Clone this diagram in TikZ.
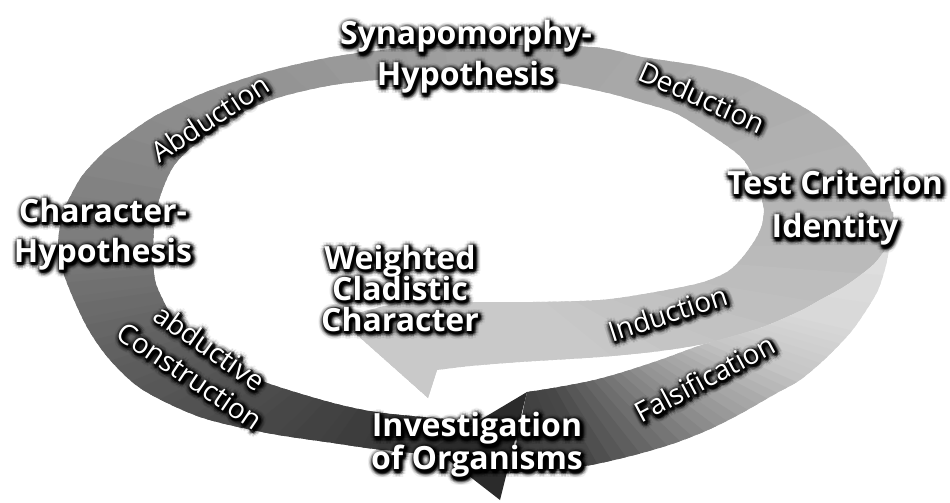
\documentclass[tikz,border=0pt]{standalone}
\usepackage{fontspec}
\newfontfamily\headfont{Open Sans}
\newfontfamily\labfont{Open Sans}
\AtBeginDocument{\lineskiplimit=-60pt\relax}
\begin{document}
\begin{tikzpicture}[x=1pt,y=-1pt,
  headline/.style={font=\headfont\bfseries\fontsize{32}{#1}\selectfont,
    align=center, inner sep=0pt},
  headline/.default=40,
  steplabel/.style={font=\labfont\fontsize{28}{30}\selectfont, inner sep=0pt},
]
% white text over a soft dark drop shadow
\newcommand\glowtext[4]{%
  \foreach \gr/\go in {6/0.06,4.5/0.11,3/0.22,1.5/0.38}{%
    \foreach \ga in {0,30,...,330}{%
      \node[shift={(\ga:\gr pt)},shift={(1.5pt,-2pt)},text=black,text opacity=\go,#1] at #3 {#4};
    }%
  }%
  \node[text=white,#1] (#2) at #3 {#4};
}
% one coloured sector of the shading, seen from the centre of the loop
\newcommand\wedgefill[2]{%
  \fill[black!#2] (475,245) -- ({475+800*cos(#1-1.6)},{245-400*sin(#1-1.6)})
    -- ({475+800*cos(#1+1.6)},{245-400*sin(#1+1.6)}) -- cycle;}

\useasboundingbox (0,0) rectangle (950,503);
\fill[white] (0,0) rectangle (950,503);

% main ribbon: from the bottom round the left, over the top, down the right
\begin{scope}
  \clip plot[smooth] coordinates {(470,458) (383,450) (333,443) (267,433) (200,417) (143,390)
      (110,360) (87,327) (67,283) (58,250) (62,215) (70,197) (82,176) (100,156) (113,145)
      (155,116) (206,92) (266,72) (332,57) (402,48) (475,45) (592,47) (642,57) (700,66)
      (742,77) (775,92) (808,110) (835,130) (858,153) (876,177) (888,200) (893,220) (894,238)}
    -- plot[smooth] coordinates {(763,230) (764,210) (757,185) (742,158) (708,133) (675,113)
      (640,102) (608,93) (558,83) (500,79) (440,78) (400,78) (333,85) (277,98) (233,117)
      (200,140) (173,167) (157,207) (153,250) (155,280) (163,300) (173,317) (200,347)
      (233,367) (267,383) (333,403) (383,413) (470,421)} -- cycle;
  \foreach \p in {-10,-8,...,284}{%
    \pgfmathtruncatemacro\dk{28+0.1*\p+0.0667*max(0,\p-90)+0.1667*max(0,\p-180)}%
    \wedgefill{\p}{\dk}%
  }
\end{scope}

% inner branch: Induction, ending in the pale arrowhead
\begin{scope}
  \clip plot[smooth] coordinates {(893,212) (894,230) (890,243) (875,263) (858,277) (842,288)
      (820,300) (800,311) (760,328) (708,343) (660,351) (600,357) (520,362) (470,366) (437,370)}
    -- (428,398) -- (338,318) -- (405,301)
    -- plot[smooth] coordinates {(473,302) (533,302) (600,300) (650,293) (700,283) (727,272)
      (742,258) (755,240) (762,225) (764,210)} -- cycle;
  \foreach \p in {12,10,...,-146}{%
    \pgfmathtruncatemacro\dk{28-0.1*min(60,max(0,-\p))}%
    \wedgefill{\p}{\dk}%
  }
\end{scope}

% outer branch: Falsification, darkening towards its arrowhead
\begin{scope}
  \clip plot[smooth] coordinates {(527,392) (553,388) (590,381) (620,373) (660,360) (690,349)
      (708,343) (760,328) (800,311) (820,300) (842,288) (858,277) (875,263) (890,243)}
    -- plot[smooth] coordinates {(890,243) (886,265) (878,290) (865,312) (850,333) (826,358)
      (800,380) (775,394) (740,414) (708,430) (675,443) (642,453) (610,461) (585,466)
      (553,469) (510,473)} -- cycle;
  \foreach \p in {12,10,...,-100}{%
    \pgfmathtruncatemacro\dk{13+0.12*max(0,-\p)+0.413*max(0,-25-\p)+0.634*max(0,-40-\p)
      +0.333*max(0,-58-\p)-0.929*max(0,-76-\p)}%
    \wedgefill{\p}{\dk}%
  }
\end{scope}
\fill[black!83] (527,392) -- (433,448) -- (500,500) -- cycle;

% step labels along the ribbon
\glowtext{steplabel,rotate=33}{abd}{(210,118)}{Abduction}
\glowtext{steplabel,rotate=-24}{ded}{(702,97)}{Deduction}
\glowtext{steplabel,rotate=18}{ind}{(668,313)}{Induction}
\glowtext{steplabel,rotate=28}{fal}{(705,378)}{Falsification}
\glowtext{steplabel,rotate=-35}{abdc}{(210,347)}{abductive}
\glowtext{steplabel,rotate=-34}{con}{(190,376)}{Construction}

% stations of the cycle
\glowtext{headline=41}{syn}{(466,57)}{Synapomorphy-\\Hypothesis}
\glowtext{headline=43}{test}{(835,208)}{Test Criterion\\Identity}
\glowtext{headline=40}{chh}{(103,234)}{Character-\\Hypothesis}
\glowtext{headline=31}{wcc}{(400,288)}{Weighted\\Cladistic\\Character}
\glowtext{headline=33}{inv}{(477,445)}{Investigation\\of Organisms}
\end{tikzpicture}
\end{document}
